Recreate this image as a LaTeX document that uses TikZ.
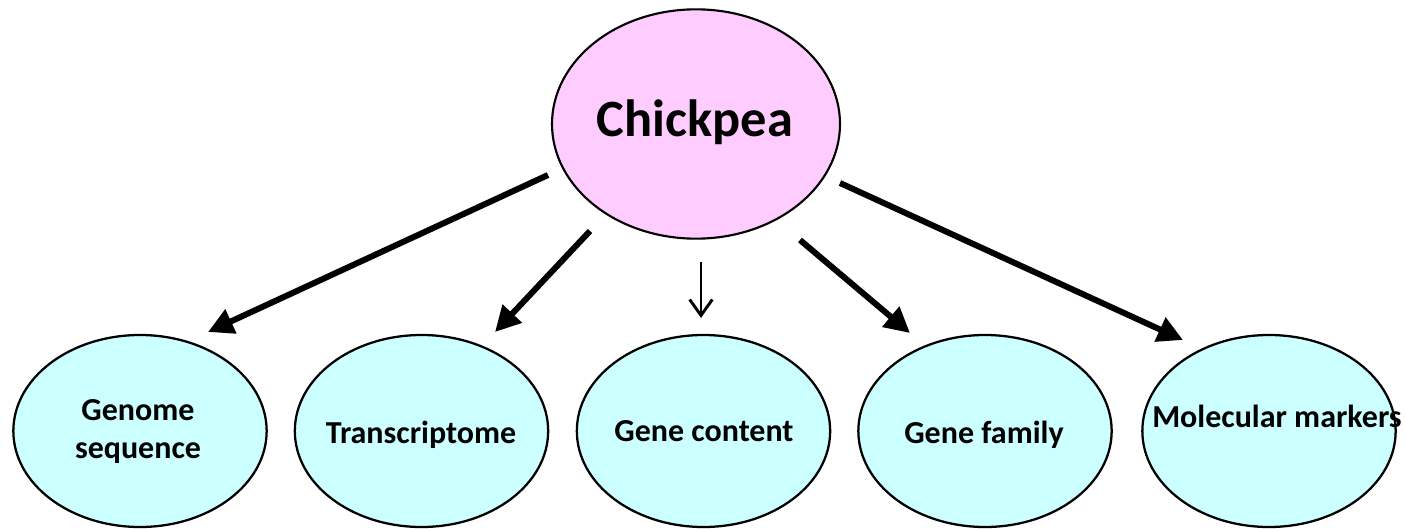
\documentclass[tikz,border=0pt]{standalone}
\usepackage{fontspec}
\setmainfont{Carlito}
\usetikzlibrary{shapes.geometric,arrows.meta}
\definecolor{rootfill}{HTML}{FFCCFF}
\definecolor{leaffill}{HTML}{CCFFFF}
\begin{document}
\begin{tikzpicture}[x=0.75pt,y=-0.75pt,
  root/.style={ellipse,draw=black,line width=1.6pt,fill=rootfill,inner sep=0pt,
    minimum width=216pt,minimum height=172pt},
  leaf/.style={ellipse,draw=black,line width=1.7pt,fill=leaffill,inner sep=0pt,
    minimum width=190pt,minimum height=144pt},
  rootlabel/.style={font=\bfseries\fontsize{39.3}{46}\selectfont,inner sep=0pt},
  leaflabel/.style={font=\bfseries\fontsize{24}{28.5}\selectfont,inner sep=0pt,align=center},
  thick arrow/.style={line width=4.5pt,-{Triangle[length=19pt,width=19pt]}},
  thin arrow/.style={line width=2.2pt,-{Straight Barb[length=12pt,width=17pt,line width=2.2pt]}}]
\useasboundingbox (0,0) rectangle (1405,528);

% top node
\node[root] (chick) at (696,124) {};
\node[rootlabel] (chicktxt) at (695,122) {Chickpea};

% bottom nodes
\node[leaf] (genome) at (140,431) {};
\node[leaf] (trans)  at (421.5,431) {};
\node[leaf] (content) at (703.5,431) {};
\node[leaf] (family) at (985,431) {};
\node[leaf] (markers) at (1269,431) {};

\node[leaflabel] (genometxt) at (138,432) {Genome\\sequence};
\node[leaflabel] (transtxt) at (421,435) {Transcriptome};
\node[leaflabel] (contenttxt) at (704,431) {Gene content};
\node[leaflabel] (familytxt) at (984,435) {Gene family};
\node[leaflabel] (markerstxt) at (1277,416) {Molecular markers};

% arrow end points
\coordinate (s1) at (548,175);  \coordinate (e1) at (208,332);
\coordinate (s2) at (590,231);  \coordinate (e2) at (495,332);
\coordinate (s3) at (701,262);  \coordinate (e3) at (701,318);
\coordinate (s4) at (800,240);  \coordinate (e4) at (910,333);
\coordinate (s5) at (840,183);  \coordinate (e5) at (1183,340);

\draw[thick arrow] (s1) -- (e1);
\draw[thick arrow] (s2) -- (e2);
\draw[thin arrow]  (s3) -- (e3);
\draw[thick arrow] (s4) -- (e4);
\draw[thick arrow] (s5) -- (e5);
\end{tikzpicture}
\end{document}
